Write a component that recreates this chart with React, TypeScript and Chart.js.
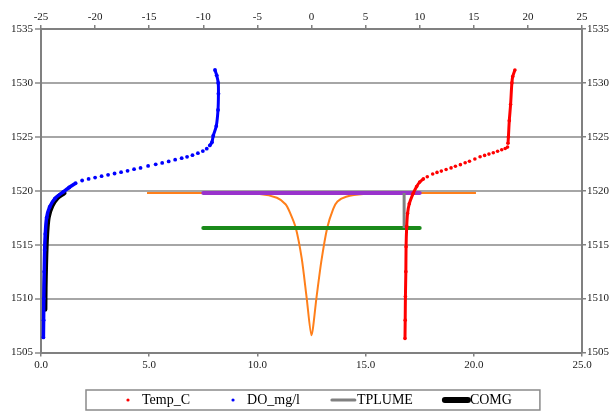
import React, { useEffect, useRef } from 'react';
import { Chart, registerables } from 'chart.js';

Chart.register(...registerables);

const FONT = '"Liberation Serif", "Times New Roman", serif';

// ---- Data ----
// Temp_C profile: temperature (bottom axis) vs depth value (left axis)
const tempC = [
  16.82, 16.83, 16.84, 16.86, 16.87, 16.9, 16.94, 17.02, 17.2, 17.36, 17.5, 17.67,
  17.85, 18.1, 18.3, 18.5, 18.72, 18.95, 19.15, 19.38, 19.6, 19.8, 20.05, 20.29, 20.5,
  20.7, 20.9, 21.1, 21.29, 21.45, 21.56,
  21.58, 21.6, 21.64, 21.7, 21.76, 21.8, 21.9,
];
const tempDepth = [
  1506.3, 1508.0, 1510.2, 1512.5, 1514.8, 1516.7, 1517.9, 1518.8, 1519.76, 1520.4, 1520.8, 1521.1,
  1521.3, 1521.55, 1521.7, 1521.82, 1521.97, 1522.12, 1522.27, 1522.42, 1522.6, 1522.74, 1522.95,
  1523.15, 1523.28, 1523.4, 1523.52, 1523.66, 1523.8, 1523.92, 1524.05,
  1524.4, 1525.0, 1526.5, 1528.0, 1530.0, 1530.6, 1531.2,
];
const TEMP_DOTS = [12, 30]; // index range where the samples show as separate dots

// DO_mg/l profile
const doMgL = [
  0.11, 0.12, 0.13, 0.15, 0.17, 0.2, 0.26, 0.4, 0.65, 1.03, 1.3, 1.6,
  1.9, 2.2, 2.5, 2.8, 3.1, 3.4, 3.7, 4.0, 4.3, 4.6, 4.95, 5.3, 5.6, 5.9, 6.2, 6.5,
  6.75, 7.0, 7.25, 7.48, 7.66,
  7.8, 7.9, 7.96, 8.1, 8.18, 8.2, 8.19, 8.12, 8.04,
];
const doDepth = [
  1506.4, 1508.0, 1510.0, 1512.5, 1514.5, 1516.0, 1517.5, 1518.5, 1519.3, 1519.9, 1520.3, 1520.7,
  1520.95, 1521.1, 1521.22, 1521.35, 1521.48, 1521.6, 1521.72, 1521.85, 1522.0, 1522.12, 1522.3,
  1522.45, 1522.58, 1522.72, 1522.88, 1523.02, 1523.15, 1523.3, 1523.48, 1523.68, 1523.9,
  1524.2, 1524.5, 1525.1, 1526.0, 1527.5, 1529.0, 1530.0, 1530.7, 1531.2,
];
const DO_DOTS = [12, 32];

// TPLUME (bottom axis)
const tplumeX = [16.78, 16.78];
const tplumeDepth = [1519.8, 1516.55];

// COMG (bottom axis)
const comgX = [0.18, 0.19, 0.21, 0.24, 0.28, 0.34, 0.5, 0.75, 1.06];
const comgDepth = [1509.0, 1511.0, 1513.0, 1515.0, 1516.5, 1517.6, 1518.6, 1519.35, 1519.8];

// Plume lines (top axis)
const plumeTopX = [-10, 10];
const plumeTopDepth = [1519.8, 1519.8];
const plumeMidX = [-10, 10];
const plumeMidDepth = [1516.55, 1516.55];
const plumeShapeX = [-15.2, -8, -4.8, -3.2, -2.4, -2.0, -1.45, -0.9, -0.45, 0, 0.45, 0.9, 1.45, 2.0, 2.4, 3.2, 4.8, 8, 15.2];
const plumeShapeDepth = [
  1519.8, 1519.78, 1519.7, 1519.35, 1518.75, 1518.0, 1516.55, 1513.7, 1510.1, 1506.6,
  1510.0, 1513.4, 1516.55, 1518.3, 1519.0, 1519.45, 1519.7, 1519.78, 1519.8,
];

// Axis ranges / ticks
const depthMin = 1505;
const depthMax = 1535;
const bottomMin = 0;
const bottomMax = 25;
const topMin = -25;
const topMax = 25;
const tickStep = 5;

const LEGEND_LABELS = ['Temp_C', 'DO_mg/l', 'TPLUME', 'COMG'];

const pts = (xs: number[], ys: number[]) => xs.map((x, i) => ({ x, y: ys[i] }));
const slicePts = (xs: number[], ys: number[], a: number, b?: number) =>
  pts(xs.slice(a, b), ys.slice(a, b));

const legendStyle: Record<string, { kind: string; color: string; width: number }> = {
  'Temp_C': { kind: 'dot', color: '#ff0000', width: 1.6 },
  'DO_mg/l': { kind: 'dot', color: '#0000ff', width: 1.6 },
  'TPLUME': { kind: 'line', color: '#808080', width: 3 },
  'COMG': { kind: 'line', color: '#000000', width: 6 },
};

const legendPlugin = {
  id: 'boxedLegend',
  afterDraw(chart: any) {
    const { ctx } = chart;
    const cy = 400;
    ctx.save();
    ctx.font = `14px ${FONT}`;
    ctx.textBaseline = 'middle';
    ctx.textAlign = 'left';
    let x = 107;
    const startX = x;
    let endText = x;
    LEGEND_LABELS.forEach((label) => {
      const st = legendStyle[label];
      if (st.kind === 'line') {
        ctx.beginPath();
        ctx.strokeStyle = st.color;
        ctx.lineWidth = st.width;
        ctx.lineCap = 'round';
        ctx.moveTo(x + 10, cy);
        ctx.lineTo(x + 33, cy);
        ctx.stroke();
      } else {
        ctx.beginPath();
        ctx.fillStyle = st.color;
        ctx.arc(x + 21, cy, st.width, 0, Math.PI * 2);
        ctx.fill();
      }
      ctx.fillStyle = '#000';
      ctx.fillText(label, x + 35, cy + 0.5);
      const w = ctx.measureText(label).width;
      endText = x + 35 + w;
      x = endText + 22;
    });
    ctx.strokeStyle = '#8a8a8a';
    ctx.lineWidth = 1.5;
    ctx.strokeRect(startX - 21, 390, endText + 28 - (startX - 21), 20);
    ctx.restore();
  },
};

const lineOnly = (label: string, data: any[], color: string, width: number, order: number, axis = 'x') => ({
  label,
  data,
  xAxisID: axis,
  yAxisID: 'y',
  showLine: true,
  borderColor: color,
  borderWidth: width,
  pointRadius: 0,
  order,
});

export default function App() {
  const ref = useRef<HTMLCanvasElement | null>(null);

  useEffect(() => {
    if (!ref.current) return;
    const tickFont = { family: FONT, size: 11 };
    const chart = new Chart(ref.current, {
      type: 'scatter',
      data: {
        datasets: [
          {
            label: 'Temp_C',
            data: pts(tempC, tempDepth),
            xAxisID: 'x',
            yAxisID: 'y',
            showLine: false,
            pointRadius: 1.8,
            pointBorderWidth: 0,
            pointBackgroundColor: '#ff0000',
            order: 0,
          } as any,
          { ...lineOnly('Temp_C lower', slicePts(tempC, tempDepth, 0, TEMP_DOTS[0]), '#ff0000', 3, 0), tension: 0.3 } as any,
          { ...lineOnly('Temp_C upper', slicePts(tempC, tempDepth, TEMP_DOTS[1] + 1), '#ff0000', 3, 0), tension: 0.3 } as any,
          {
            label: 'DO_mg/l',
            data: pts(doMgL, doDepth),
            xAxisID: 'x',
            yAxisID: 'y',
            showLine: false,
            pointRadius: 1.9,
            pointBorderWidth: 0,
            pointBackgroundColor: '#0000ff',
            order: 1,
          } as any,
          { ...lineOnly('DO lower', slicePts(doMgL, doDepth, 0, DO_DOTS[0]), '#0000ff', 3.5, 1), tension: 0.3 } as any,
          { ...lineOnly('DO upper', slicePts(doMgL, doDepth, DO_DOTS[1] + 1), '#0000ff', 3, 1), tension: 0.3 } as any,
          { ...lineOnly('COMG', pts(comgX, comgDepth), '#000000', 5, 2), tension: 0.3, borderCapStyle: 'round' } as any,
          lineOnly('TPLUME', pts(tplumeX, tplumeDepth), '#808080', 3, 3) as any,
          { ...lineOnly('Plume top', pts(plumeTopX, plumeTopDepth), '#9933cc', 4, 4, 'x2'), borderCapStyle: 'round' } as any,
          { ...lineOnly('Plume centre', pts(plumeMidX, plumeMidDepth), '#1a8a1a', 4, 5, 'x2'), borderCapStyle: 'round' } as any,
          { ...lineOnly('Plume shape', pts(plumeShapeX, plumeShapeDepth), '#ff7f1a', 2, 6, 'x2'), tension: 0.25 } as any,
        ],
      },
      options: {
        responsive: false,
        animation: false,
        layout: { padding: 0 },
        plugins: {
          legend: { display: false },
          tooltip: { enabled: false },
        },
        scales: {
          x: {
            type: 'linear',
            position: 'bottom',
            min: bottomMin,
            max: bottomMax,
            ticks: {
              stepSize: tickStep,
              font: tickFont,
              color: '#1a1a1a',
              padding: 2,
              maxRotation: 0,
              callback: (v: any) => Number(v).toFixed(1),
            },
            grid: { drawOnChartArea: false, color: '#808080', lineWidth: 1.5, tickLength: 4 },
            border: { color: '#808080', width: 2 },
            afterFit: (s: any) => {
              s.height = 59.5;
            },
          },
          x2: {
            type: 'linear',
            position: 'top',
            min: topMin,
            max: topMax,
            ticks: {
              stepSize: tickStep,
              font: tickFont,
              color: '#1a1a1a',
              padding: 1,
              maxRotation: 0,
              callback: (v: any) => String(v),
            },
            grid: { drawOnChartArea: false, color: '#808080', lineWidth: 1.5, tickLength: 4 },
            border: { color: '#808080', width: 2 },
            afterFit: (s: any) => {
              s.height = 29;
            },
          },
          y: {
            type: 'linear',
            position: 'left',
            min: depthMin,
            max: depthMax,
            ticks: { stepSize: tickStep, font: tickFont, color: '#1a1a1a', padding: 2, callback: (v: any) => String(v) },
            grid: { color: '#a6a6a6', lineWidth: 2, tickLength: 6 },
            border: { color: '#808080', width: 2 },
            afterFit: (s: any) => {
              s.width = 41;
            },
          },
          y2: {
            type: 'linear',
            position: 'right',
            min: depthMin,
            max: depthMax,
            ticks: { stepSize: tickStep, font: tickFont, color: '#1a1a1a', padding: 1, callback: (v: any) => String(v) },
            grid: { drawOnChartArea: false, color: '#808080', lineWidth: 1.5, tickLength: 4 },
            border: { color: '#808080', width: 2 },
            afterFit: (s: any) => {
              s.width = 30;
            },
          },
        },
      } as any,
      plugins: [legendPlugin],
    });
    return () => chart.destroy();
  }, []);

  return (
    <div style={{ position: 'absolute', left: 0, top: 0, width: 612, height: 412, background: '#fff' }}>
      <canvas ref={ref} width={612} height={412} style={{ display: 'block' }} />
    </div>
  );
}
